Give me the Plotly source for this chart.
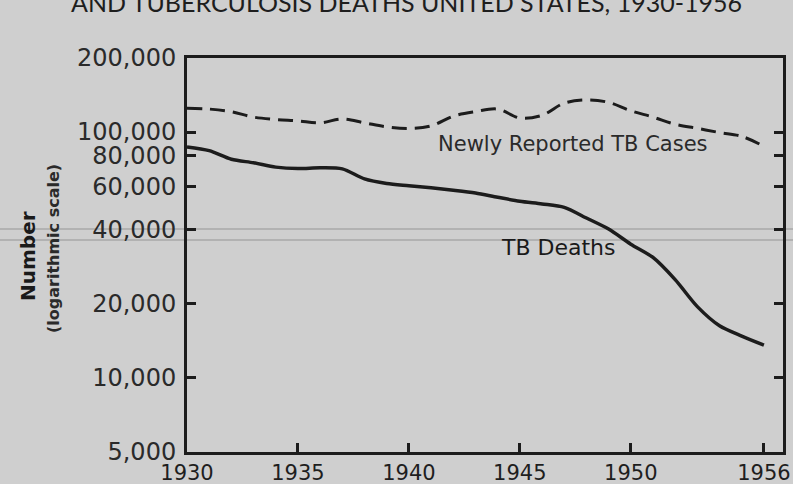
import numpy as np
import plotly.graph_objects as go

years = list(range(1930, 1957))
tb_deaths = [87000, 84000, 77500, 75000, 72000, 71000, 71500, 70800, 64500, 61800,
             60500, 59300, 58000, 56500, 54300, 52300, 51000, 49400, 44700, 40300,
             35000, 30900, 25100, 19500, 16300, 14800, 13600]
tb_cases = [125000, 124000, 121000, 115000, 112500, 111000, 109000, 113000, 109000, 105000,
            103500, 106000, 116000, 121000, 124000, 114000, 117000, 131000, 135000, 132000,
            122000, 115000, 107500, 103500, 99500, 96000, 87500]

y_tick_vals = [5000, 10000, 20000, 40000, 60000, 80000, 100000, 200000]
y_tick_text = ["5,000", "10,000", "20,000", "40,000", "60,000", "80,000", "100,000", "200,000"]
x_tick_vals = [1930, 1935, 1940, 1945, 1950, 1956]
x_tick_text = ["1930", "1935", "1940", "1945", "1950", "1956"]

ink = "#1c1c1c"
paper = "#cfcfcf"
font = "DejaVu Sans, sans-serif"

fig = go.Figure()
fig.add_trace(go.Scatter(x=years, y=tb_cases, mode="lines",
                         line=dict(color=ink, width=3, dash="15px,8px", shape="spline", smoothing=1.0),
                         showlegend=False, hoverinfo="skip"))
fig.add_trace(go.Scatter(x=years, y=tb_deaths, mode="lines",
                         line=dict(color=ink, width=3.5, shape="spline", smoothing=0.8),
                         showlegend=False, hoverinfo="skip"))

fig.update_layout(
    width=793, height=484,
    margin=dict(l=187, r=10, t=58, b=32, autoexpand=False),
    paper_bgcolor=paper, plot_bgcolor=paper,
    font=dict(family=font, color="#2a2a2a"),
    xaxis=dict(range=[1930, 1956.86], tickvals=x_tick_vals, ticktext=x_tick_text,
               ticks="inside", ticklen=9, tickwidth=2.5, tickcolor=ink,
               showline=True, linecolor=ink, linewidth=3, mirror=True,
               showgrid=False, zeroline=False, automargin=False,
               tickfont=dict(size=21, color="#1e1e1e", family=font)),
    yaxis=dict(type="log", range=[np.log10(5000), np.log10(200000)],
               tickvals=y_tick_vals, ticktext=y_tick_text,
               ticks="inside", ticklen=9, tickwidth=2.5, tickcolor=ink,
               showline=True, linecolor=ink, linewidth=3, mirror="ticks",
               showgrid=False, zeroline=False, ticklabelstandoff=3, automargin=False,
               tickfont=dict(size=24, color="#2a2a2a", family=font)),
)

fig.add_annotation(text="AND TUBERCULOSIS DEATHS UNITED STATES, 1930-1956",
                   xref="paper", yref="paper", x=0.5, y=1, xanchor="center", yanchor="middle",
                   xshift=-79, yshift=56, showarrow=False,
                   font=dict(family="Lato, sans-serif", size=25, color="#1e1e1e"))
fig.add_annotation(text="<b>Number</b>", xref="paper", yref="paper", x=0, y=0.5,
                   xanchor="center", yanchor="middle", xshift=-159, yshift=-1,
                   textangle=-90, showarrow=False,
                   font=dict(family=font, size=20, color="#1a1a1a"))
fig.add_annotation(text="<b>(logarithmic scale)</b>", xref="paper", yref="paper", x=0, y=0.5,
                   xanchor="center", yanchor="middle", xshift=-134, yshift=6,
                   textangle=-90, showarrow=False,
                   font=dict(family=font, size=16, color="#2a2a2a"))
fig.add_annotation(text="Newly Reported TB Cases", x=1947.38, y=np.log10(89700),
                   xanchor="center", yanchor="middle", showarrow=False,
                   font=dict(family=font, size=21, color="#2a2a2a"))
fig.add_annotation(text="TB Deaths", x=1946.75, y=np.log10(33900),
                   xanchor="center", yanchor="middle", showarrow=False,
                   font=dict(family=font, size=22, color="#1a1a1a"))

# faint scanner lines across the sheet
for yp in [229, 240]:
    fig.add_shape(type="line", xref="paper", yref="paper", x0=-187/596, x1=1 + 10/596,
                  y0=(452 - yp) / 394, y1=(452 - yp) / 394,
                  line=dict(color="#a8a8a8", width=1.5), layer="below")

fig.write_html("out.html", config={"displayModeBar": False},
               post_script="document.body.style.margin='0';document.body.style.overflow='hidden';")
